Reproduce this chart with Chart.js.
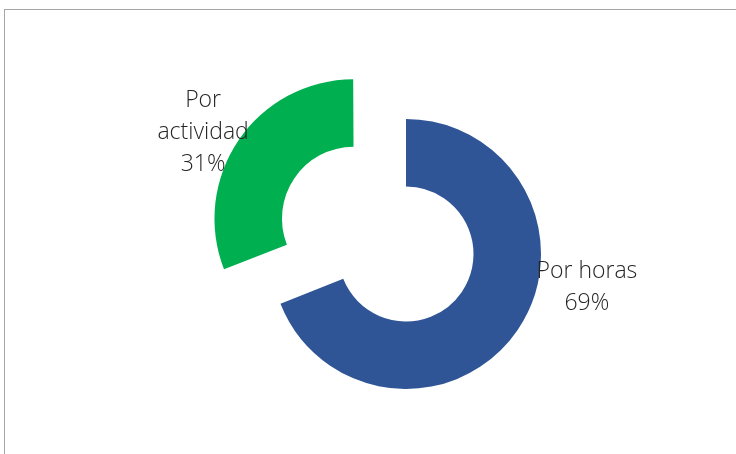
<!DOCTYPE html>
<html>
<head>
<meta charset="utf-8">
<script src="https://cdn.jsdelivr.net/npm/chart.js@4.4.1/dist/chart.umd.min.js"></script>
<style>
  html, body { margin: 0; padding: 0; background: #fff; overflow: hidden; }
  #frame {
    position: absolute; left: 4px; top: 9px; width: 760px; height: 480px;
    border: 1px solid #a6a6a6; box-sizing: border-box;
  }
  #wrap { position: absolute; left: 0; top: 0; width: 736px; height: 454px; }
</style>
</head>
<body>
<div id="frame"></div>
<div id="wrap"><canvas id="pieChart" width="736" height="454"></canvas></div>
<script>
const categories = ["Por horas", "Por actividad"];
const shares = [69, 31];
const sliceColors = ["#2f5597", "#00b050"];
const sliceOffsets = [0, 252];
// label centre relative to the slice centre, in units of outer radius
const labelShift = [[1.34, 0.245], [-1.09, -0.62]];

const sliceLabels = {
  id: "sliceLabels",
  afterDatasetsDraw(chart) {
    const { ctx } = chart;
    const meta = chart.getDatasetMeta(0);
    ctx.save();
    ctx.fillStyle = "#262626";
    ctx.font = "300 23px 'Open Sans', sans-serif";
    ctx.textAlign = "center";
    ctx.textBaseline = "middle";
    meta.data.forEach((arc, i) => {
      const mid = (arc.startAngle + arc.endAngle) / 2;
      const circ = arc.endAngle - arc.startAngle;
      const off = (sliceOffsets[i] / 4) * (2 - Math.sin(Math.min(Math.PI, circ)));
      const cx = arc.x + Math.cos(mid) * off;
      const cy = arc.y + Math.sin(mid) * off;
      const lx = cx + labelShift[i][0] * arc.outerRadius;
      const ly = cy + labelShift[i][1] * arc.outerRadius;
      const words = categories[i].split(" ");
      const lines = i === 0 ? [categories[i], shares[i] + "%"] : [...words, shares[i] + "%"];
      const lh = 32;
      lines.forEach((t, k) => {
        ctx.fillText(t, lx, ly + (k - (lines.length - 1) / 2) * lh);
      });
    });
    ctx.restore();
  },
};

new Chart(document.getElementById("pieChart"), {
  type: "doughnut",
  data: {
    labels: categories,
    datasets: [{
      data: shares,
      backgroundColor: sliceColors,
      borderWidth: 0,
      offset: sliceOffsets,
      hoverOffset: 0,
      clip: false,
    }],
  },
  options: {
    responsive: false,
    animation: false,
    radius: 135,
    cutout: "50%",
    layout: { padding: { left: 76, top: 54, right: 0, bottom: 0 } },
    plugins: { legend: { display: false }, tooltip: { enabled: false } },
  },
  plugins: [sliceLabels],
});
</script>
</body>
</html>
